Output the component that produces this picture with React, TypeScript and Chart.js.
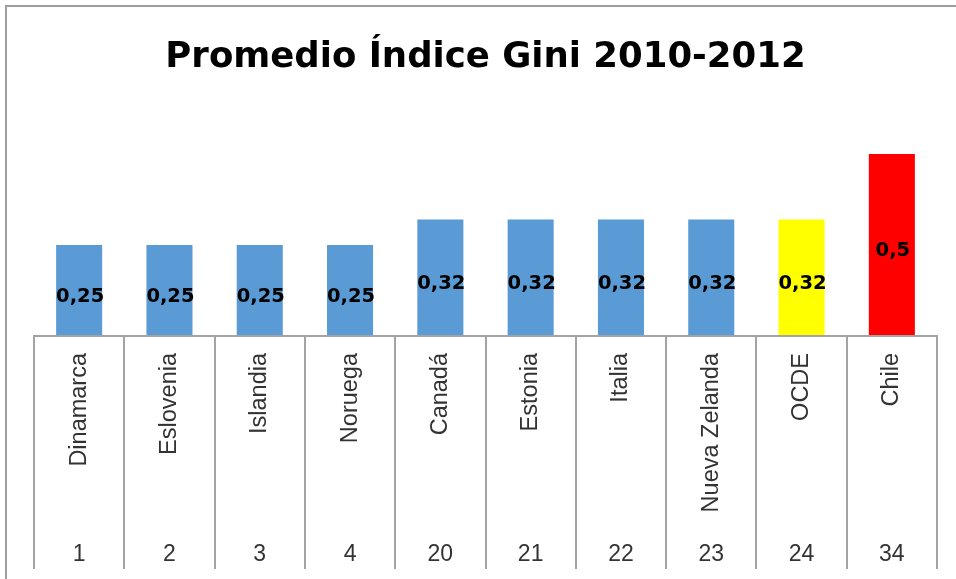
import React, { useEffect, useRef } from 'react';
import { Chart, registerables } from 'chart.js';

Chart.register(...registerables);

const titleText = 'Promedio Índice Gini 2010-2012';
const categories = ['Dinamarca', 'Eslovenia', 'Islandia', 'Noruega', 'Canadá', 'Estonia', 'Italia', 'Nueva Zelanda', 'OCDE', 'Chile'];
const ranks = ['1', '2', '3', '4', '20', '21', '22', '23', '24', '34'];
const giniValues = [0.25, 0.25, 0.25, 0.25, 0.32, 0.32, 0.32, 0.32, 0.32, 0.5];
const barColors = ['#5B9BD5', '#5B9BD5', '#5B9BD5', '#5B9BD5', '#5B9BD5', '#5B9BD5', '#5B9BD5', '#5B9BD5', '#FFFF00', '#FF0000'];

const LINE_GRAY = '#A3A3A3';

const framePlugin = {
  id: 'frame',
  beforeDraw(chart: any) {
    const ctx = chart.ctx;
    ctx.save();
    ctx.strokeStyle = '#9E9E9E';
    ctx.lineWidth = 2;
    ctx.beginPath();
    ctx.moveTo(6, chart.height);
    ctx.lineTo(6, 6);
    ctx.lineTo(chart.width, 6);
    ctx.stroke();
    ctx.restore();
  },
};

const separatorsPlugin = {
  id: 'separators',
  afterDraw(chart: any) {
    const xs = chart.scales.x;
    const x2 = chart.scales.x2;
    const n = categories.length;
    const w = xs.width / n;
    const ctx = chart.ctx;
    ctx.save();
    ctx.strokeStyle = LINE_GRAY;
    ctx.lineWidth = 2;
    for (let i = 0; i <= n; i++) {
      const px = Math.round(xs.left + i * w);
      ctx.beginPath();
      ctx.moveTo(px, xs.top);
      ctx.lineTo(px, x2.bottom);
      ctx.stroke();
    }
    ctx.beginPath();
    ctx.moveTo(xs.left - 1, xs.top);
    ctx.lineTo(xs.right + 1, xs.top);
    ctx.stroke();
    ctx.restore();
  },
};

const valueLabelsPlugin = {
  id: 'valueLabels',
  afterDatasetsDraw(chart: any) {
    const ctx = chart.ctx;
    const meta = chart.getDatasetMeta(0);
    ctx.save();
    ctx.font = 'bold 19.5px "DejaVu Sans"';
    ctx.fillStyle = '#000000';
    ctx.textAlign = 'center';
    ctx.textBaseline = 'alphabetic';
    meta.data.forEach((bar: any, i: number) => {
      const { x, y, base } = bar.getProps(['x', 'y', 'base'], true);
      const label = String(giniValues[i]).replace('.', ',');
      ctx.fillText(label, x + 1, (y + base) / 2 + 11);
    });
    ctx.restore();
  },
};

export default function App() {
  const canvasRef = useRef<HTMLCanvasElement | null>(null);

  useEffect(() => {
    document.body.style.margin = '0';
    const canvas = canvasRef.current;
    if (!canvas) return;
    const chart = new Chart(canvas, {
      type: 'bar',
      data: {
        labels: categories,
        datasets: [
          {
            data: giniValues,
            backgroundColor: barColors,
            borderWidth: 0,
            barPercentage: 0.51,
            categoryPercentage: 1,
          },
        ],
      },
      options: {
        responsive: false,
        animation: false,
        events: [],
        layout: { padding: { left: 34, right: 19, top: 0, bottom: 10 } },
        plugins: {
          legend: { display: false },
          tooltip: { enabled: false },
          title: {
            display: true,
            text: titleText,
            color: '#000000',
            font: { family: '"DejaVu Sans"', size: 35.5, weight: 'bold' },
            padding: { top: 36, bottom: 39 },
          },
        },
        scales: {
          y: {
            display: false,
            min: 0,
            max: 0.6,
          },
          x: {
            type: 'category',
            position: 'bottom',
            weight: 0,
            offset: true,
            grid: { display: false, drawTicks: false },
            border: { display: false },
            ticks: {
              autoSkip: false,
              minRotation: 90,
              maxRotation: 90,
              padding: 17,
              color: '#333333',
              font: { family: '"Liberation Sans"', size: 23.5 },
            },
            afterFit: (scale: any) => {
              scale.height = 199;
            },
          },
          x2: {
            type: 'category',
            position: 'bottom',
            weight: 1,
            labels: ranks,
            offset: true,
            grid: { display: false, drawTicks: false },
            border: { display: false },
            ticks: {
              autoSkip: false,
              maxRotation: 0,
              minRotation: 0,
              padding: 6,
              color: '#333333',
              font: { family: '"Liberation Sans"', size: 23 },
            },
            afterFit: (scale: any) => {
              scale.height = 34;
            },
          },
        },
      },
      plugins: [framePlugin, separatorsPlugin, valueLabelsPlugin],
    } as any);
    return () => chart.destroy();
  }, []);

  return (
    <div style={{ width: 956, height: 579 }}>
      <canvas ref={canvasRef} width={956} height={579} style={{ display: 'block' }} />
    </div>
  );
}
